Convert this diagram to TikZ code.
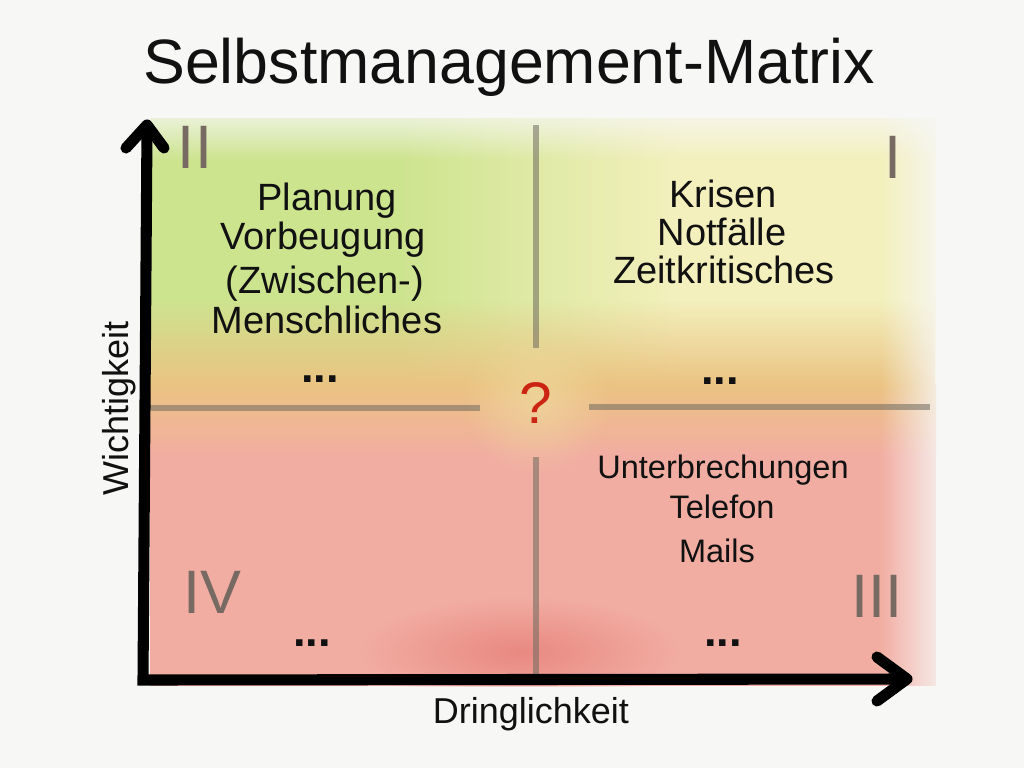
\documentclass[tikz,border=0pt]{standalone}
\usepackage{fontspec}
\setmainfont{Liberation Sans}
\usetikzlibrary{fadings}
\definecolor{bgc}{HTML}{F7F7F6}
\definecolor{greenq}{HTML}{CDE48F}
\definecolor{yellowq}{HTML}{F3F0BD}
\definecolor{orangeq}{HTML}{EBC382}
\definecolor{pinkq}{HTML}{F2ADA2}
\definecolor{redq}{HTML}{E8857E}
\definecolor{divq}{HTML}{6E6A5E}
\definecolor{romanq}{HTML}{776A62}
\definecolor{qmark}{HTML}{CC2412}
\definecolor{textc}{HTML}{111111}
\tikzfading[name=fadein, top color=transparent!100, bottom color=transparent!0]
\tikzfading[name=topedge, top color=transparent!0, bottom color=transparent!100]
\tikzfading[name=rightedge, left color=transparent!100, right color=transparent!0]
\tikzfading[name=softblob, inner color=transparent!0, outer color=transparent!100]
\begin{document}
\begin{tikzpicture}[x=0.75pt, y=-0.75pt,
  divline/.style={draw=divq, draw opacity=0.55, line width=4.6pt},
  axisline/.style={draw=black, line width=8.3pt, line join=miter},
  axishead/.style={draw=black, line width=8.3pt, line cap=round, line join=round},
  titletext/.style={font=\fontsize{47}{56}\selectfont, text=textc, anchor=base},
  qtext/.style={font=\fontsize{28.5}{34}\selectfont, text=textc, anchor=base},
  qsmall/.style={font=\fontsize{24.4}{29}\selectfont, text=textc, anchor=base},
  roman/.style={font=\fontsize{46}{55}\selectfont, text=romanq, anchor=base},
  dots/.style={font=\bfseries\fontsize{34}{40}\selectfont, text=textc, anchor=base},
  axislabel/.style={font=\fontsize{27}{32}\selectfont, text=textc, anchor=base},
  qmarkstyle/.style={font=\fontsize{44}{52}\selectfont, text=qmark, anchor=base}]
\fill[bgc] (0,0) rectangle (1024,768);
\useasboundingbox (0,0) rectangle (1024,768);
% watercolour areas
\begin{scope}
\clip (148,112) rectangle (936,686);
\fill[greenq] (150,118) rectangle (401,390);
\shade[left color=greenq, right color=yellowq] (400,118) rectangle (680,390);
\fill[yellowq] (679,118) rectangle (936,390);
\fill[orangeq, path fading=fadein] (150,300) rectangle (936,386);
\shade[top color=orangeq, bottom color=pinkq] (150,385) rectangle (936,455);
\fill[pinkq] (150,454) rectangle (936,686);
\fill[orangeq!50!yellowq, fill opacity=0.7, path fading=softblob] (536,400) circle (75);
\fill[redq, fill opacity=0.9, path fading=softblob] (520,652) ellipse (160 and 55);
\end{scope}
\fill[bgc, path fading=topedge] (150,100) rectangle (940,160);
\fill[bgc, path fading=rightedge] (880,100) rectangle (950,690);
% dividers
\coordinate (vt1) at (536,125); \coordinate (vt2) at (536,348);
\coordinate (vb1) at (536,457); \coordinate (vb2) at (536,676);
\coordinate (hl1) at (150,408); \coordinate (hl2) at (480,408);
\coordinate (hr1) at (589,407); \coordinate (hr2) at (930,407);
\draw[divline] (vt1) -- (vt2);
\draw[divline] (vb1) -- (vb2);
\draw[divline] (hl1) -- (hl2);
\draw[divline] (hr1) -- (hr2);
% axes
\coordinate (O) at (143,680);
\coordinate (ytip) at (147,125);
\coordinate (xtip) at (907,679);
\coordinate (ya) at (126,148); \coordinate (yb) at (164,148);
\coordinate (xa) at (877,657); \coordinate (xb) at (877,701);
\draw[axisline] (147,128) -- (O) -- (904,679);
\draw[axishead] (ya) -- (ytip) -- (yb);
\draw[axishead] (xa) -- (xtip) -- (xb);
% texts
\node[titletext] (title) at (509,83) {Selbstmanagement-Matrix};
\node[roman] (rII) at (195,168) {II};
\node[roman] (rI) at (893,178) {I};
\node[roman] (rIV) at (212,613) {IV};
\node[roman] (rIII) at (877,617) {III};
\node[qtext] (t1) at (327,210) {Planung};
\node[qtext] (t2) at (323,249) {Vorbeugung};
\node[qtext] (t3) at (325,293) {(Zwischen-)};
\node[qtext] (t4) at (327,333) {Menschliches};
\node[qtext] (k1) at (723,207) {Krisen};
\node[qtext] (k2) at (722,245) {Notfälle};
\node[qtext] (k3) at (724,283) {Zeitkritisches};
\node[qsmall] (u1) at (723,478) {Unterbrechungen};
\node[qsmall] (u2) at (722,518) {Telefon};
\node[qsmall] (u3) at (717,562) {Mails};
\node[dots] (d1) at (320,382) {...};
\node[dots] (d2) at (720,384) {...};
\node[dots] (d3) at (312,646) {...};
\node[dots] (d4) at (723,646) {...};
\node[qmarkstyle] (q) at (536,423) {?};
\node[axislabel, rotate=90] (wl) at (128,408) {Wichtigkeit};
\node[axislabel] (dl) at (531,723) {Dringlichkeit};
\end{tikzpicture}
\end{document}
